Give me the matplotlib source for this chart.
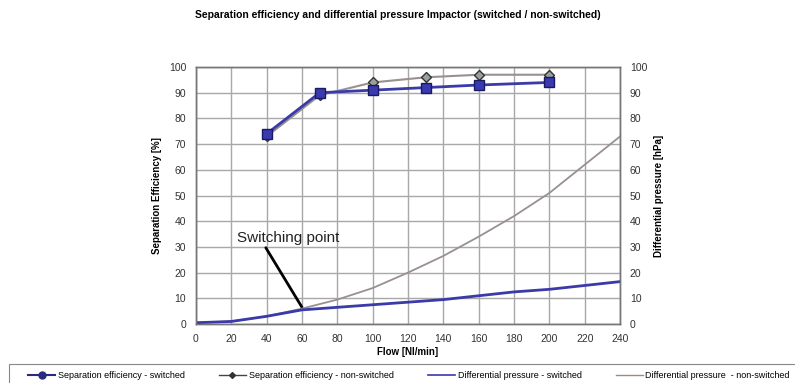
import matplotlib
matplotlib.use("Agg")
import matplotlib.pyplot as plt
from matplotlib.lines import Line2D
from matplotlib.patches import Rectangle

plt.rcParams['font.family'] = ['Liberation Sans', 'DejaVu Sans']

# Separation efficiency data
eff_flow = [40, 70, 100, 130, 160, 200]
eff_switched = [74, 90, 91, 92, 93, 94]
eff_nonswitched = [73, 89, 94, 96, 97, 97]

# Differential pressure data
dp_flow = [0, 20, 40, 60, 80, 100, 120, 140, 160, 180, 200, 220, 240]
dp_nonswitched = [0.5, 1, 3, 6, 9.5, 14, 20, 26.5, 34, 42, 51, 62, 73]
dp_switched = [0.5, 1, 3, 5.5, 6.5, 7.5, 8.5, 9.5, 11, 12.5, 13.5, 15, 16.5]

x_ticks = list(range(0, 241, 20))
y_ticks = list(range(0, 101, 10))

title = "Separation efficiency and differential pressure Impactor (switched / non-switched)"
labels = ["Separation efficiency - switched", "Separation efficiency - non-switched",
          "Differential pressure - switched", "Differential pressure  - non-switched"]

fig = plt.figure(figsize=(7.95, 3.83), dpi=100)
ax = fig.add_axes([0.2465, 0.154, 0.5335, 0.671])
ax2 = ax.twinx()

blue = "#3a3aa8"
navy = "#2a2a80"
grey = "#9a9090"

ax.set_xlim(0, 240)
ax.set_ylim(0, 100)
ax2.set_ylim(0, 100)
ax.set_xticks(x_ticks)
ax.set_yticks(y_ticks)
ax2.set_yticks(y_ticks)
ax.grid(True, color="#a8a8a8", lw=1.0)
ax.set_axisbelow(True)

for a in (ax, ax2):
    for s in a.spines.values():
        s.set_color("#777777")
        s.set_linewidth(1.0)
    a.tick_params(labelsize=7.5, length=0, colors="#333333", pad=7)

ax2.plot(dp_flow, dp_nonswitched, color=grey, lw=1.3)
ax2.plot(dp_flow, dp_switched, color=blue, lw=2.0)
ax.plot(eff_flow, eff_nonswitched, color=grey, lw=1.5, marker="D", ms=5,
        mfc="#9aa09a", mec="#333333", mew=1.0)
ax.plot(eff_flow, eff_switched, color=blue, lw=2.0, marker="s", ms=7,
        mfc="#3a3ab0", mec="#1a1a60", mew=1.0)

ax.set_xlabel("Flow [Nl/min]", fontsize=7, fontweight="bold", labelpad=2)
ax.set_ylabel("Separation Efficiency [%]", fontsize=7, fontweight="bold", labelpad=5)
ax2.set_ylabel("Differential pressure [hPa]", fontsize=7, fontweight="bold", labelpad=5)

ax.annotate("Switching point", xy=(60, 6.5), xytext=(23.5, 33.5),
            fontsize=11, color="#222222", va="center", ha="left",
            arrowprops=dict(arrowstyle="-", color="black", lw=2.0,
                            shrinkA=0, shrinkB=0, relpos=(0.26, 0.0)))

fig.text(0.5, 0.96, title, ha="center", va="center", fontsize=7.5, fontweight="bold")

# legend frame (extends beyond the figure bottom/right as in the reference)
fig.patches.append(Rectangle((9 / 795, -0.05), 1.0, 0.05 + (383 - 364) / 383,
                             transform=fig.transFigure, fill=False,
                             edgecolor="#888888", lw=0.8))

handles = [
    Line2D([], [], color=navy, lw=1.5, marker="o", ms=5, mfc=navy, mec=navy),
    Line2D([], [], color="#444444", lw=1.0, marker="D", ms=3, mfc="#333333", mec="#333333"),
    Line2D([], [], color=blue, lw=1.2),
    Line2D([], [], color="#a08a80", lw=1.0),
]
leg = fig.legend(handles, labels, loc="center left",
                 bbox_to_anchor=(28 / 795, 1 - 376 / 383, 762 / 795, 0.0),
                 mode="expand", ncol=4, fontsize=6.5, frameon=False,
                 handlelength=3.0, handletextpad=0.3, borderaxespad=0, borderpad=0)

fig.savefig("out.png", dpi=100)
